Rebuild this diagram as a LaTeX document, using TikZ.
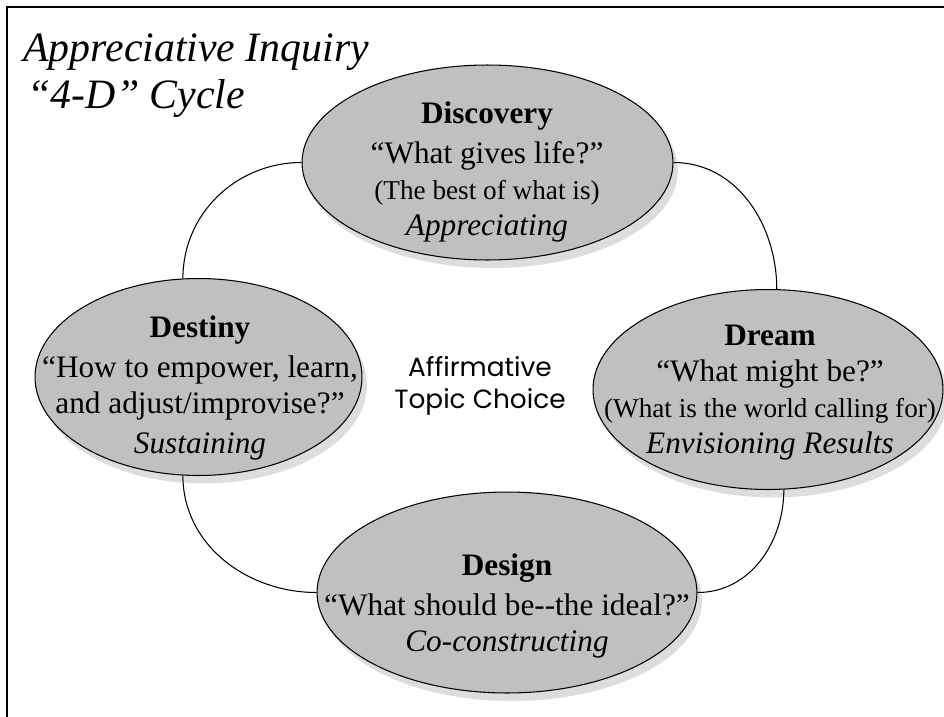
\documentclass[tikz,border=0pt]{standalone}
\usepackage{fontspec}
\setmainfont{Liberation Serif}
\newfontfamily\topicfont{Poppins}
\usetikzlibrary{shapes.geometric,shadows}
\definecolor{stagefill}{HTML}{C0C0C0}
\definecolor{stageshade}{HTML}{DDDDDD}
\newcommand{\stagenote}[1]{{\fontsize{15.5}{20.5}\selectfont #1}}

\begin{document}
\begin{tikzpicture}
[
  x=0.02cm,
  y=-0.02cm,
  frame/.style={draw,line width=1.7pt},
  stage/.style={ellipse,draw,fill=stagefill,line width=0.6pt,inner sep=0pt,
    drop shadow={shadow xshift=0.1cm,shadow yshift=-0.16cm,fill=stageshade,opacity=1}},
  stagetext/.style={align=center,inner sep=0pt,font=\fontsize{17.8}{20.5}\selectfont},
  link/.style={draw,line width=0.6pt}
]
\useasboundingbox (0,0) rectangle (944,717);

% Frame
\draw[frame] (7,717) -- (7,7) -- (944,7);

% Title
\node[anchor=north west,align=left,inner sep=0pt,
  font=\fontsize{23.8}{27.2}\selectfont\itshape] (title) at (23,33)
  {Appreciative Inquiry\\\hspace*{2.5pt}“4-D” Cycle};

% Stages
\node[stage,minimum width=7.42cm,minimum height=3.9cm] (disc) at (487.5,162.5) {};
\node[stage,minimum width=7cm,minimum height=4cm] (dream) at (768,389.5) {};
\node[stage,minimum width=7.6cm,minimum height=4.02cm] (design) at (507,592.5) {};
\node[stage,minimum width=6.54cm,minimum height=3.94cm] (dest) at (198.5,377) {};

% Stage texts
\node[stagetext] (disctext) at (487,172)
  {\textbf{Discovery}\\[2pt]“What gives life?”\\\stagenote{(The best of what is)}\\\textit{Appreciating}};
\node[stagetext] (dreamtext) at (770,393)
  {\textbf{Dream}\\“What might be?”\\\stagenote{(What is the world calling for)}\\\textit{Envisioning Results}};
\node[stagetext] (designtext) at (507,606)
  {\textbf{Design}\\[2pt]“What should be-{}-the ideal?”\\\textit{Co-constructing}};
\node[stagetext] (desttext) at (200,388)
  {\textbf{Destiny}\\[2pt]“How to empower, learn,\\and adjust/improvise?”\\[2pt]\textit{Sustaining}};

% Centre
\node[align=center,inner sep=0pt,font=\topicfont\fontsize{15}{18.5}\selectfont] (topic) at (480,386)
  {Affirmative\\Topic Choice};

% Links
\draw[link] (disc.west) to[out=180,in=90] (dest.99);
\draw[link] (disc.east) to[out=0,in=90] (dream.85);
\draw[link] (dream.279) to[out=270,in=0] (design.east);
\draw[link] (design.west) to[out=180,in=270] (dest.261);

\end{tikzpicture}
\end{document}
